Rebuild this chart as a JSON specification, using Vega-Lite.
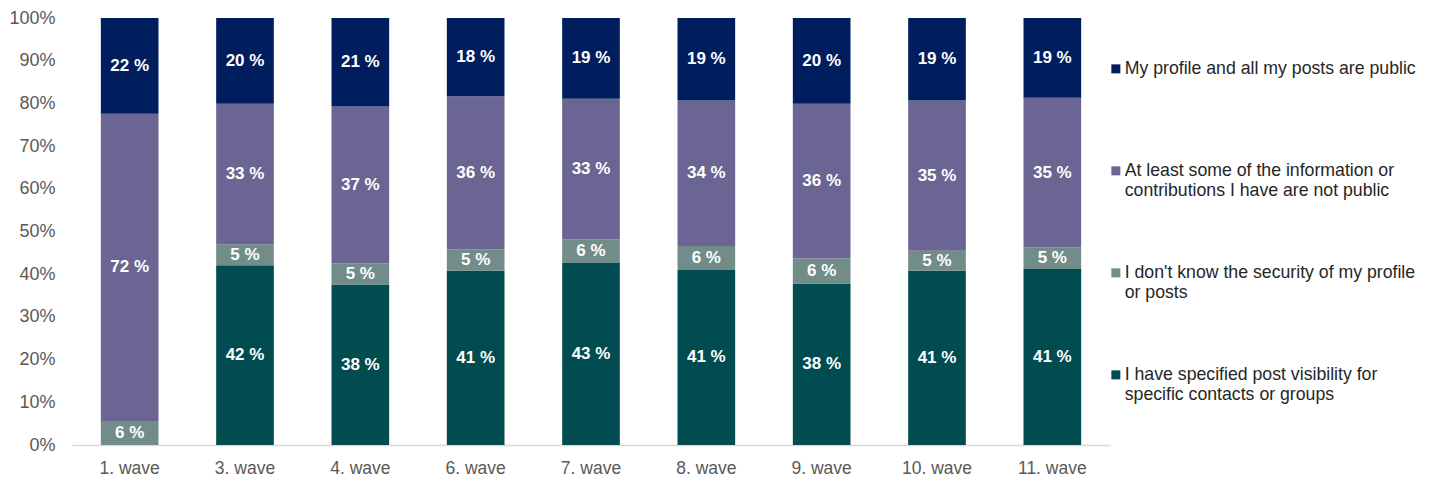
{
  "$schema": "https://vega.github.io/schema/vega-lite/v6.json",
  "width": 1038,
  "height": 427,
  "autosize": {"type": "none"},
  "padding": {"left": 72, "top": 18, "right": 322, "bottom": 36},
  "background": "white",
  "config": {
    "view": {"stroke": null},
    "font": "Liberation Sans",
    "style": {"guide-label": {"lineHeight": 20.5}}
  },
  "data": {
    "values": [
      {"wave": "1. wave", "series": "I don't know the security of my profile or posts", "o": 2, "value": 5.6},
      {"wave": "1. wave", "series": "At least some of the information or contributions I have are not public", "o": 3, "value": 72.0},
      {"wave": "1. wave", "series": "My profile and all my posts are public", "o": 4, "value": 22.4},
      {"wave": "3. wave", "series": "I have specified post visibility for specific contacts or groups", "o": 1, "value": 42.1},
      {"wave": "3. wave", "series": "I don't know the security of my profile or posts", "o": 2, "value": 4.9},
      {"wave": "3. wave", "series": "At least some of the information or contributions I have are not public", "o": 3, "value": 32.9},
      {"wave": "3. wave", "series": "My profile and all my posts are public", "o": 4, "value": 20.1},
      {"wave": "4. wave", "series": "I have specified post visibility for specific contacts or groups", "o": 1, "value": 37.6},
      {"wave": "4. wave", "series": "I don't know the security of my profile or posts", "o": 2, "value": 4.9},
      {"wave": "4. wave", "series": "At least some of the information or contributions I have are not public", "o": 3, "value": 36.8},
      {"wave": "4. wave", "series": "My profile and all my posts are public", "o": 4, "value": 20.7},
      {"wave": "6. wave", "series": "I have specified post visibility for specific contacts or groups", "o": 1, "value": 40.8},
      {"wave": "6. wave", "series": "I don't know the security of my profile or posts", "o": 2, "value": 5.0},
      {"wave": "6. wave", "series": "At least some of the information or contributions I have are not public", "o": 3, "value": 35.9},
      {"wave": "6. wave", "series": "My profile and all my posts are public", "o": 4, "value": 18.3},
      {"wave": "7. wave", "series": "I have specified post visibility for specific contacts or groups", "o": 1, "value": 42.6},
      {"wave": "7. wave", "series": "I don't know the security of my profile or posts", "o": 2, "value": 5.6},
      {"wave": "7. wave", "series": "At least some of the information or contributions I have are not public", "o": 3, "value": 32.9},
      {"wave": "7. wave", "series": "My profile and all my posts are public", "o": 4, "value": 18.9},
      {"wave": "8. wave", "series": "I have specified post visibility for specific contacts or groups", "o": 1, "value": 41.0},
      {"wave": "8. wave", "series": "I don't know the security of my profile or posts", "o": 2, "value": 5.6},
      {"wave": "8. wave", "series": "At least some of the information or contributions I have are not public", "o": 3, "value": 34.1},
      {"wave": "8. wave", "series": "My profile and all my posts are public", "o": 4, "value": 19.3},
      {"wave": "9. wave", "series": "I have specified post visibility for specific contacts or groups", "o": 1, "value": 37.8},
      {"wave": "9. wave", "series": "I don't know the security of my profile or posts", "o": 2, "value": 5.9},
      {"wave": "9. wave", "series": "At least some of the information or contributions I have are not public", "o": 3, "value": 36.2},
      {"wave": "9. wave", "series": "My profile and all my posts are public", "o": 4, "value": 20.1},
      {"wave": "10. wave", "series": "I have specified post visibility for specific contacts or groups", "o": 1, "value": 40.8},
      {"wave": "10. wave", "series": "I don't know the security of my profile or posts", "o": 2, "value": 4.7},
      {"wave": "10. wave", "series": "At least some of the information or contributions I have are not public", "o": 3, "value": 35.2},
      {"wave": "10. wave", "series": "My profile and all my posts are public", "o": 4, "value": 19.3},
      {"wave": "11. wave", "series": "I have specified post visibility for specific contacts or groups", "o": 1, "value": 41.2},
      {"wave": "11. wave", "series": "I don't know the security of my profile or posts", "o": 2, "value": 5.1},
      {"wave": "11. wave", "series": "At least some of the information or contributions I have are not public", "o": 3, "value": 35.0},
      {"wave": "11. wave", "series": "My profile and all my posts are public", "o": 4, "value": 18.7}
    ]
  },
  "transform": [
    {"stack": "value", "groupby": ["wave"], "sort": [{"field": "o", "order": "ascending"}], "as": ["y0", "y1"]},
    {"calculate": "format(datum.value, '.0f') + ' %'", "as": "label"},
    {"calculate": "(datum.y0 + datum.y1) / 2", "as": "ymid"}
  ],
  "encoding": {
    "x": {
      "field": "wave",
      "type": "nominal",
      "sort": null,
      "scale": {"paddingInner": 0.5, "paddingOuter": 0.25},
      "axis": {
        "title": null,
        "labelAngle": 0,
        "labelFontSize": 17.5,
        "labelColor": "#595959",
        "labelPadding": 14,
        "ticks": false,
        "domainColor": "#d9d9d9",
        "domainWidth": 1.5,
        "grid": false
      }
    }
  },
  "layer": [
    {
      "mark": {"type": "bar"},
      "encoding": {
        "y": {
          "field": "y0",
          "type": "quantitative",
          "scale": {"domain": [0, 100], "nice": false},
          "axis": {
            "title": null,
            "values": [0, 10, 20, 30, 40, 50, 60, 70, 80, 90, 100],
            "labelExpr": "datum.value + '%'",
            "labelFontSize": 18,
            "labelColor": "#595959",
            "labelPadding": 17,
            "ticks": false,
            "domain": false,
            "grid": false
          }
        },
        "y2": {"field": "y1"},
        "color": {
          "field": "series",
          "type": "nominal",
          "scale": {
            "domain": [
              "My profile and all my posts are public",
              "At least some of the information or contributions I have are not public",
              "I don't know the security of my profile or posts",
              "I have specified post visibility for specific contacts or groups"
            ],
            "range": ["#001e5e", "#6a6592", "#728d89", "#004c50"]
          },
          "legend": {
            "title": null,
            "orient": "none",
            "legendX": 1035,
            "legendY": 42,
            "direction": "vertical",
            "symbolType": "square",
            "symbolSize": 81,
            "symbolStrokeWidth": 0,
            "labelFontSize": 17.7,
            "labelColor": "#262626",
            "labelLimit": 400,
            "labelOffset": 0,
            "gridAlign": "all",
            "rowPadding": 62,
            "labelExpr": "datum.label == 'At least some of the information or contributions I have are not public' ? ['At least some of the information or', 'contributions I have are not public'] : datum.label == \"I don't know the security of my profile or posts\" ? [\"I don't know the security of my profile\", 'or posts'] : datum.label == 'I have specified post visibility for specific contacts or groups' ? ['I have specified post visibility for', 'specific contacts or groups'] : datum.label"
          }
        }
      }
    },
    {
      "mark": {"type": "text", "color": "white", "fontWeight": "bold", "fontSize": 17},
      "encoding": {
        "y": {"field": "ymid", "type": "quantitative"},
        "text": {"field": "label"}
      }
    }
  ]
}
